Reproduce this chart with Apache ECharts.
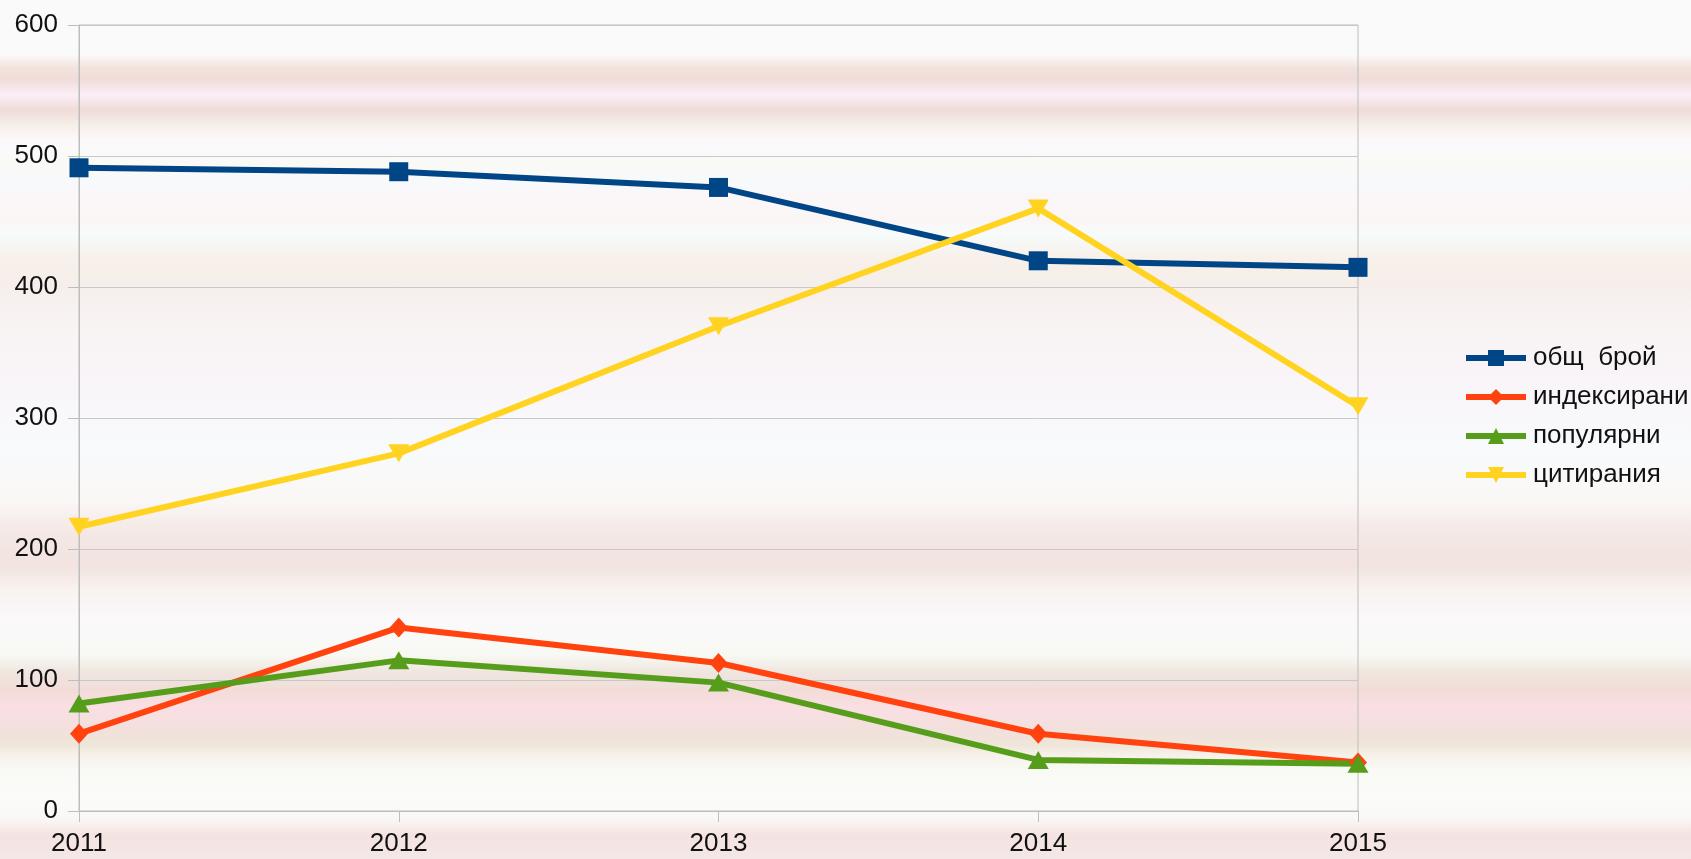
<!DOCTYPE html>
<html>
<head>
<meta charset="utf-8">
<script src="https://cdn.jsdelivr.net/npm/echarts@6/dist/echarts.min.js"></script>
<style>
html, body { margin: 0; padding: 0; }
#chart { width: 1691px; height: 859px; }
</style>
</head>
<body>
<div id="chart"></div>
<script>
const years = ['2011', '2012', '2013', '2014', '2015']
const total = [491, 488, 476, 420, 415]
const indexed = [59, 140, 113, 59, 37]
const popular = [82, 115, 98, 39, 36]
const citations = [217, 273, 370, 460, 309]

const chart = echarts.init(document.getElementById('chart'))

// striped background like the original picture
const H = 859
const bgStops = [
    [0, '#fafafa'], [55, '#fafafa'], [68, '#f3e2dd'], [78, '#f0dcd8'], [95, '#fbeef5'],
    [110, '#efdcd8'], [125, '#f6efe9'], [140, '#fcf9fc'], [165, '#f9faf6'], [185, '#f7f9fc'],
    [195, '#fbf6f8'], [220, '#fbf6f6'], [235, '#f6fbfb'], [258, '#f8f0ea'], [285, '#f6eeea'],
    [320, '#f8f3f3'], [380, '#f9f5f8'], [450, '#f8fafb'], [500, '#faf8f6'], [530, '#f4e9e6'],
    [565, '#f2e3df'], [590, '#f9f2ef'], [620, '#fbf9fc'], [655, '#f8f9f4'], [672, '#efe6df'],
    [690, '#f2dcd8'], [708, '#fadfe4'], [730, '#f2e0dc'], [745, '#efe6d9'], [755, '#f6f1ea'],
    [770, '#f9faf5'], [800, '#fbfbfb'], [818, '#faf8f6'], [835, '#f4e3e0'], [859, '#f4e7e7']
]

const font = 'Liberation Sans, Arial, sans-serif'

const option = {
    animation: false,
    backgroundColor: '#fafafa',
    textStyle: { fontFamily: font },
    graphic: [
        {
            type: 'rect',
            z: -10,
            silent: true,
            shape: { x: 0, y: 0, width: 1691, height: H },
            style: {
                fill: new echarts.graphic.LinearGradient(0, 0, 0, 1,
                    bgStops.map(s => ({ offset: s[0] / H, color: s[1] }))
                )
            }
        }
    ],
    legend: {
        orient: 'vertical',
        left: 1463,
        top: 345,
        padding: 0,
        itemWidth: 60,
        itemHeight: 20,
        itemGap: 13,
        lineStyle: { width: 6 },
        textStyle: { fontSize: 26, color: '#111', fontFamily: font, padding: [0, 0, 0, 2] },
        data: ['общ  брой', 'индексирани', 'популярни', 'цитирания']
    },
    grid: {
        left: 79,
        right: 333,
        top: 25,
        bottom: 48,
        show: true,
        borderColor: '#bdbdbd',
        borderWidth: 1,
        backgroundColor: 'transparent'
    },
    xAxis: {
        type: 'category',
        boundaryGap: false,
        data: years,
        axisLine: { lineStyle: { color: '#bdbdbd', width: 1 } },
        axisTick: { show: true, length: 11, lineStyle: { color: '#bdbdbd' } },
        axisLabel: { fontSize: 26, color: '#111', margin: 20, fontFamily: font },
        splitLine: { show: false }
    },
    yAxis: {
        type: 'value',
        min: 0,
        max: 600,
        interval: 100,
        axisLine: { show: true, lineStyle: { color: '#bdbdbd', width: 1 } },
        axisTick: { show: true, length: 11, lineStyle: { color: '#bdbdbd' } },
        axisLabel: { fontSize: 26, color: '#111', margin: 21, fontFamily: font },
        splitLine: { lineStyle: { color: '#c8c8c8', width: 1 } }
    },
    series: [
        {
            name: 'общ  брой',
            type: 'line',
            data: total,
            symbol: 'rect',
            symbolSize: 19,
            lineStyle: { width: 6, color: '#004586' },
            itemStyle: { color: '#004586' }
        },
        {
            name: 'индексирани',
            type: 'line',
            data: indexed,
            symbol: 'diamond',
            symbolSize: [18, 20],
            lineStyle: { width: 6, color: '#ff420e' },
            itemStyle: { color: '#ff420e' }
        },
        {
            name: 'популярни',
            type: 'line',
            data: popular,
            symbol: 'triangle',
            symbolSize: [21, 18],
            lineStyle: { width: 6, color: '#579d1c' },
            itemStyle: { color: '#579d1c' }
        },
        {
            name: 'цитирания',
            type: 'line',
            data: citations,
            symbol: 'triangle',
            symbolRotate: 180,
            symbolSize: [21, 18],
            lineStyle: { width: 6, color: '#ffd320' },
            itemStyle: { color: '#ffd320' }
        }
    ]
}

chart.setOption(option)
</script>
</body>
</html>
